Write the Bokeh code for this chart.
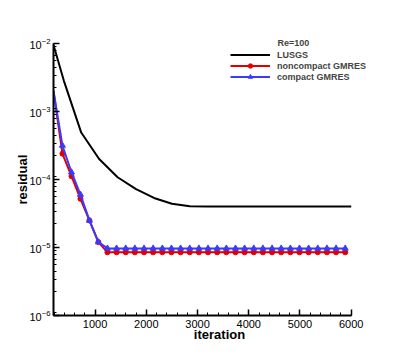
from bokeh.plotting import figure
from bokeh.models import (Range1d, SingleIntervalTicker, LogTicker, Legend, LegendItem,
                          Label)
from bokeh.embed import file_html
from bokeh.resources import INLINE

# --- data ---
lusgs_iter = [189, 390, 730, 1080, 1440, 1800, 2150, 2500, 2850, 3200, 6000]
lusgs_res = [9.5e-3, 2.85e-3, 4.9e-4, 2.0e-4, 1.08e-4, 7.2e-5, 5.35e-5, 4.4e-5, 4.05e-5, 4.0e-5, 4.0e-5]

gm_iter = [189, 363, 540, 715, 890, 1065, 1242, 1420, 1599, 1777, 1956, 2134, 2313, 2491,
           2670, 2848, 3027, 3205, 3384, 3562, 3741, 3919, 4098, 4276, 4455, 4633, 4812,
           4990, 5169, 5347, 5526, 5704, 5883]
noncompact_res = [2.0e-3, 2.4e-4, 1.12e-4, 5.2e-5, 2.5e-5, 1.2e-5] + [8.5e-6] * 27
compact_res = [2.0e-3, 3.16e-4, 1.28e-4, 6.0e-5, 2.5e-5, 1.2e-5] + [9.7e-6] * 27

x_axis_bounds = (189, 6000)
y_axis_bounds = (1e-6, 1e-2)
x_ticks_interval = 1000
legend_title = "Re=100"
series_names = ["LUSGS", "noncompact GMRES", "compact GMRES"]

FONT = "Liberation Sans"
RED = "#e00000"
BLUE = "#3a3aff"

p = figure(width=395, height=350, output_backend="svg", toolbar_location=None,
           x_range=Range1d(189, 6669), y_range=Range1d(1e-6, 0.01267),
           y_axis_type="log", min_border_left=53, min_border_top=36,
           min_border_right=10, min_border_bottom=35)
p.outline_line_color = None
p.xgrid.visible = False
p.ygrid.visible = False

r_lusgs = p.line(lusgs_iter, lusgs_res, line_color="black", line_width=2)
r_nc = p.line(gm_iter, noncompact_res, line_color=RED, line_width=2)
r_nc_m = p.scatter(gm_iter[1:], noncompact_res[1:], marker="circle", size=5,
                   fill_color=RED, line_color=RED)
r_c = p.line(gm_iter, compact_res, line_color=BLUE, line_width=2)
r_c_m = p.scatter(gm_iter[1:], compact_res[1:], marker="triangle", size=6,
                  fill_color=BLUE, line_color=BLUE)

# axes
xa = p.xaxis[0]
xa.ticker = SingleIntervalTicker(interval=x_ticks_interval, num_minor_ticks=5)
xa.bounds = x_axis_bounds
ya = p.yaxis[0]
ya.ticker = LogTicker(num_minor_ticks=9)
ya.bounds = y_axis_bounds
for ax in (xa, ya):
    ax.axis_line_width = 2
    ax.axis_line_color = "black"
    ax.major_tick_in = 6
    ax.major_tick_out = 0
    ax.minor_tick_in = 3
    ax.minor_tick_out = 0
    ax.major_tick_line_width = 1.5
    ax.major_tick_line_color = "black"
    ax.minor_tick_line_color = "black"
    ax.major_label_text_font = FONT
    ax.major_label_text_font_size = "11px"
    ax.major_label_text_color = "black"
    ax.axis_label_text_font = FONT
    ax.axis_label_text_font_style = "bold"
    ax.axis_label_text_font_size = "13px"
    ax.axis_label_text_color = "black"
xa.axis_label = "iteration"
ya.axis_label = "residual\u00a0\u00a0"
xa.axis_label_standoff = -4
ya.axis_label_standoff = -4
xa.major_label_standoff = 4
ya.major_label_standoff = 3

legend = Legend(items=[
    LegendItem(label=series_names[0], renderers=[r_lusgs]),
    LegendItem(label=series_names[1], renderers=[r_nc, r_nc_m]),
    LegendItem(label=series_names[2], renderers=[r_c, r_c_m]),
], location=(177, 233))
legend.border_line_color = None
legend.background_fill_alpha = 0
legend.padding = 0
legend.margin = 0
legend.spacing = 0
legend.glyph_width = 40
legend.glyph_height = 11
legend.label_height = 11
legend.label_standoff = 7
legend.label_text_font = FONT
legend.label_text_font_style = "bold"
legend.label_text_font_size = "9px"
p.add_layout(legend, "center")

p.add_layout(Label(x=224, y=273, x_units="screen", y_units="screen", text=legend_title,
                   text_font=FONT, text_font_style="bold", text_font_size="9px",
                   text_baseline="middle", text_align="left"))

open("out.html", "w").write(file_html(p, INLINE))
